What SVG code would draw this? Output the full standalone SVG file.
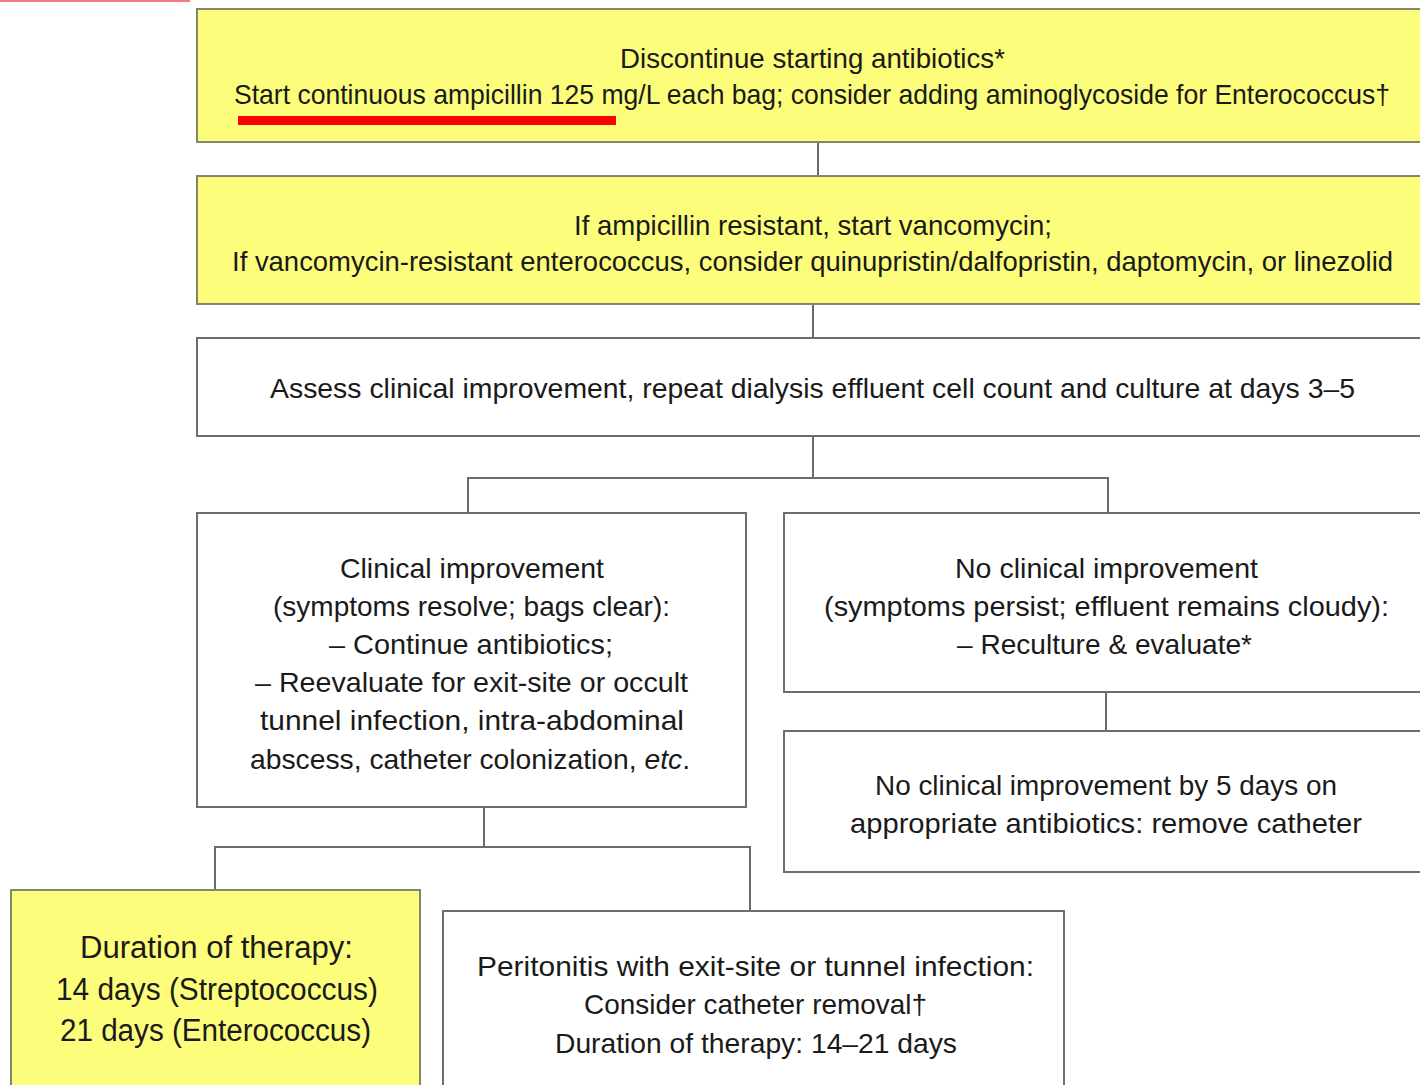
<svg xmlns="http://www.w3.org/2000/svg" width="1420" height="1085" viewBox="0 0 1420 1085">
<style>
.y{fill:#fdfd7c;stroke:#85856a;stroke-width:2}
.w{fill:#ffffff;stroke:#6e6e6e;stroke-width:2}
.t{font-family:"Liberation Sans Narrow","Liberation Sans",Arial,sans-serif;font-size:28px;fill:#1a1a1a;text-anchor:middle}
.big{font-size:31px}
.c{fill:none;stroke:#6a6a6a;stroke-width:2}
</style>
<rect x="0" y="0" width="1420" height="1085" fill="#ffffff"/>
<rect x="0" y="0" width="190" height="2" fill="#f07a7a"/>
<g id="connectors">
<path class="c" d="M818 142V176"/>
<path class="c" d="M813 304V338"/>
<path class="c" d="M813 436V478M468 513V478H1108V513"/>
<path class="c" d="M1106 692V731"/>
<path class="c" d="M484 807V847M215 890V847H750V911"/>
</g>
<g id="n1">
<rect class="y" x="197" y="9" width="1240" height="133"/>
<text class="t" x="812.5" y="68" textLength="385" lengthAdjust="spacingAndGlyphs">Discontinue starting antibiotics*</text>
<text class="t" x="812" y="104" textLength="1156" lengthAdjust="spacingAndGlyphs">Start continuous ampicillin 125 mg/L each bag; consider adding aminoglycoside for Enterococcus†</text>
<rect x="238" y="116" width="378" height="9" fill="#ff0000"/>
</g>
<g id="n2">
<rect class="y" x="197" y="176" width="1240" height="128"/>
<text class="t" x="813" y="235" textLength="478" lengthAdjust="spacingAndGlyphs">If ampicillin resistant, start vancomycin;</text>
<text class="t" x="812.5" y="271" textLength="1161" lengthAdjust="spacingAndGlyphs">If vancomycin-resistant enterococcus, consider quinupristin/dalfopristin, daptomycin, or linezolid</text>
</g>
<g id="n3">
<rect class="w" x="197" y="338" width="1240" height="98"/>
<text class="t" x="812.5" y="398" textLength="1085" lengthAdjust="spacingAndGlyphs">Assess clinical improvement, repeat dialysis effluent cell count and culture at days 3–5</text>
</g>
<g id="n4">
<rect class="w" x="197" y="513" width="549" height="294"/>
<text class="t" x="472" y="578" textLength="264" lengthAdjust="spacingAndGlyphs">Clinical improvement</text>
<text class="t" x="471.5" y="616" textLength="397" lengthAdjust="spacingAndGlyphs">(symptoms resolve; bags clear):</text>
<text class="t" x="471" y="654" textLength="284" lengthAdjust="spacingAndGlyphs">– Continue antibiotics;</text>
<text class="t" x="471.5" y="692" textLength="433" lengthAdjust="spacingAndGlyphs">– Reevaluate for exit-site or occult</text>
<text class="t" x="472" y="730" textLength="424" lengthAdjust="spacingAndGlyphs">tunnel infection, intra-abdominal</text>
<text class="t" x="470" y="769" textLength="440" lengthAdjust="spacingAndGlyphs">abscess, catheter colonization, <tspan font-style="italic">etc</tspan>.</text>
</g>
<g id="n5">
<rect class="w" x="784" y="513" width="650" height="179"/>
<text class="t" x="1106.5" y="578" textLength="303" lengthAdjust="spacingAndGlyphs">No clinical improvement</text>
<text class="t" x="1106.5" y="616" textLength="565" lengthAdjust="spacingAndGlyphs">(symptoms persist; effluent remains cloudy):</text>
<text class="t" x="1104.5" y="654" textLength="295" lengthAdjust="spacingAndGlyphs">– Reculture &amp; evaluate*</text>
</g>
<g id="n6">
<rect class="w" x="784" y="731" width="650" height="141"/>
<text class="t" x="1106" y="795" textLength="462" lengthAdjust="spacingAndGlyphs">No clinical improvement by 5 days on</text>
<text class="t" x="1106" y="833" textLength="512" lengthAdjust="spacingAndGlyphs">appropriate antibiotics: remove catheter</text>
</g>
<g id="n7">
<rect class="y" x="11" y="890" width="409" height="205"/>
<text class="t big" x="216.5" y="958" textLength="273" lengthAdjust="spacingAndGlyphs">Duration of therapy:</text>
<text class="t big" x="217" y="1000" textLength="322" lengthAdjust="spacingAndGlyphs">14 days (Streptococcus)</text>
<text class="t big" x="215.5" y="1041" textLength="311" lengthAdjust="spacingAndGlyphs">21 days (Enterococcus)</text>
</g>
<g id="n8">
<rect class="w" x="443" y="911" width="621" height="184"/>
<text class="t" x="755.5" y="976" textLength="557" lengthAdjust="spacingAndGlyphs">Peritonitis with exit-site or tunnel infection:</text>
<text class="t" x="755.5" y="1014" textLength="343" lengthAdjust="spacingAndGlyphs">Consider catheter removal†</text>
<text class="t" x="756" y="1053" textLength="402" lengthAdjust="spacingAndGlyphs">Duration of therapy: 14–21 days</text>
</g>
</svg>
